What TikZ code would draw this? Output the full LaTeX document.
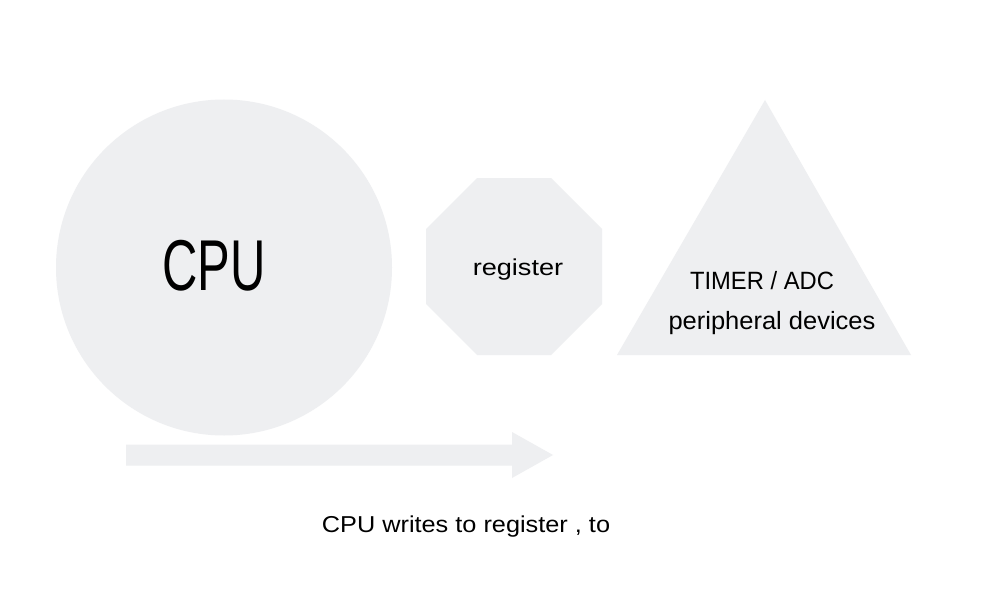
\documentclass[tikz,border=0pt]{standalone}
\usepackage{fontspec}
\usepackage{graphicx}
\usetikzlibrary{calc}
\setmainfont{Liberation Sans}
\definecolor{shapefill}{RGB}{238,239,241}
\newcommand{\sx}[2]{\scalebox{#1}[1]{#2}}
\tikzset{
  greyshape/.style={fill=shapefill, draw=none},
  txt/.style={text=black, inner sep=0pt, anchor=center},
}
\begin{document}
\begin{tikzpicture}[x=1pt,y=-1pt]
\useasboundingbox (0,0) rectangle (996,591);
\fill[white] (0,0) rectangle (996,591);
% CPU circle
\fill[greyshape] (224,267.5) circle (168);
% octagon
\fill[greyshape] (477,178) -- (551,178) -- (602,229) -- (602,304) -- (551,355) -- (477,355) -- (426,304) -- (426,229) -- cycle;
% triangle
\fill[greyshape] (765,100) -- (911,355) -- (617,355) -- cycle;
% arrow
\coordinate (astart) at (126,455);
\coordinate (aend) at (553,455);
\fill[greyshape] ($(astart)+(0,-10.5)$) -- (512,444.5) -- (512,432) -- (aend) -- (512,478) -- (512,465.5) -- ($(astart)+(0,10.5)$) -- cycle;
% texts
\node[txt, font=\fontsize{72}{80}\selectfont] (cpu) at (214,266) {\sx{0.68}{CPU}};
\node[txt, font=\fontsize{23}{27}\selectfont] (reg) at (518,270) {\sx{1.18}{register}};
\node[txt, font=\fontsize{25}{30}\selectfont] (timer) at (762,281) {\sx{0.95}{TIMER / ADC}};
\node[txt, font=\fontsize{25}{30}\selectfont] (periph) at (772,323) {\sx{1.02}{peripheral devices}};
\node[txt, font=\fontsize{23}{27}\selectfont] (caption) at (466,527) {\sx{1.1}{CPU writes to register , to}};
\end{tikzpicture}
\end{document}
